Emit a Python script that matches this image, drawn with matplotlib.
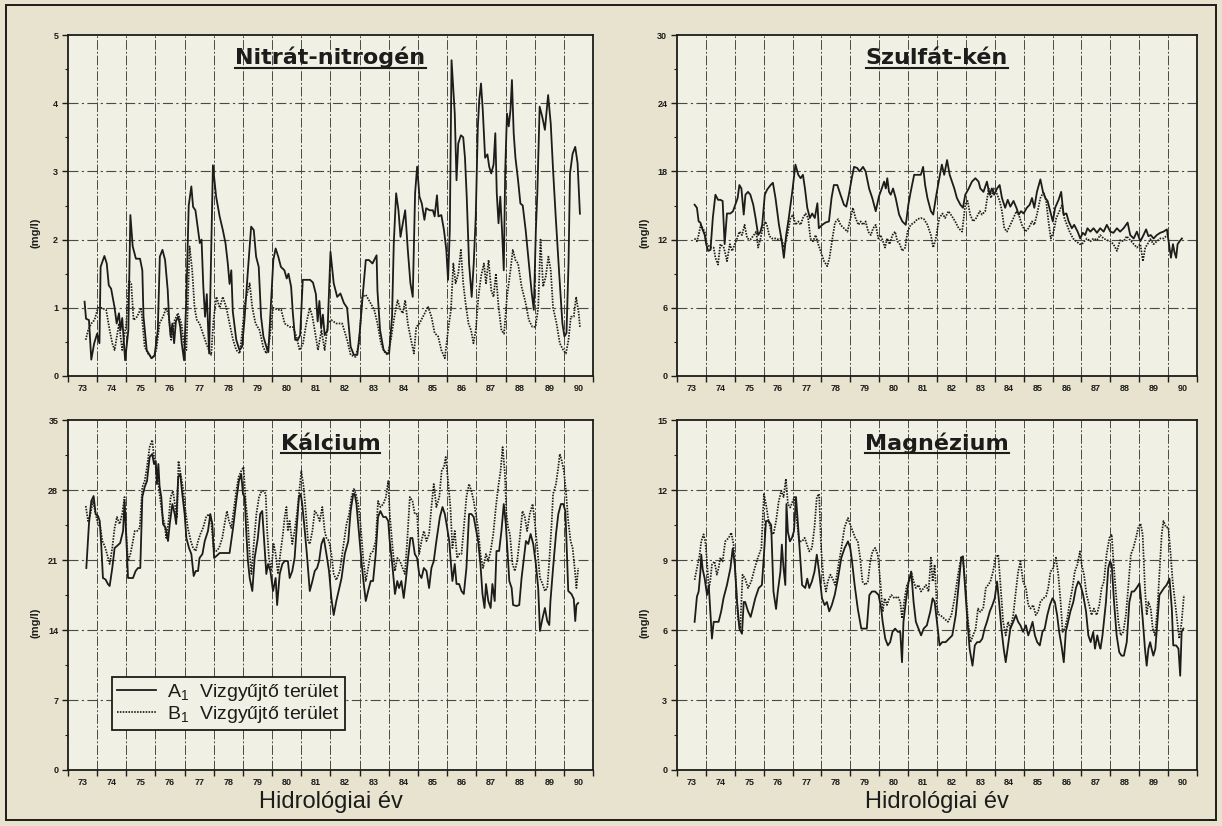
import matplotlib
matplotlib.use("Agg")
import matplotlib.pyplot as plt
import numpy as np
from matplotlib.lines import Line2D
from matplotlib.patches import Rectangle

plt.rcParams['font.family'] = ['Liberation Sans', 'DejaVu Sans']
plt.rcParams['mathtext.default'] = 'regular'

INK = '#1c1c1a'
PAPER = '#e7e3cf'
PLOT_BG = '#f0f0e4'
GRID = '#4a4a46'

years = list(range(73, 91))
year_labels = [str(y) for y in years]

# (hydrological year, mg/l) pairs, A1 = solid, B1 = dotted
nitrate_a = [
    (73.57, 1.09), (73.62, 0.84), (73.72, 0.82), (73.80, 0.24), (73.90, 0.48), (74.00, 0.62),
    (74.08, 0.48), (74.12, 1.60), (74.25, 1.76), (74.33, 1.65), (74.40, 1.33), (74.48, 1.28),
    (74.60, 1.00), (74.67, 0.77), (74.75, 0.92), (74.80, 0.67), (74.86, 0.85), (74.96, 0.23),
    (75.07, 0.67), (75.14, 2.36), (75.22, 1.90), (75.33, 1.72), (75.47, 1.72), (75.55, 1.55),
    (75.59, 0.87), (75.70, 0.38), (75.86, 0.26), (75.97, 0.30), (76.08, 0.67), (76.15, 1.75),
    (76.24, 1.85), (76.33, 1.70), (76.42, 1.26), (76.47, 0.82), (76.52, 0.58), (76.58, 0.77),
    (76.64, 0.48), (76.70, 0.80), (76.78, 0.87), (76.85, 0.72), (76.90, 0.48), (76.98, 0.23),
    (77.06, 1.16), (77.14, 2.50), (77.23, 2.78), (77.29, 2.48), (77.37, 2.43), (77.46, 2.14),
    (77.52, 1.95), (77.58, 2.00), (77.64, 1.31), (77.70, 0.87), (77.76, 1.20), (77.84, 0.33),
    (77.97, 3.09), (78.08, 2.63), (78.20, 2.34), (78.31, 2.14), (78.40, 1.95), (78.48, 1.65),
    (78.54, 1.35), (78.60, 1.55), (78.65, 0.95), (78.77, 0.53), (78.88, 0.38), (78.97, 0.43),
    (79.05, 0.82), (79.17, 1.55), (79.28, 2.19), (79.37, 2.14), (79.45, 1.75), (79.54, 1.60),
    (79.62, 0.87), (79.70, 0.58), (79.80, 0.43), (79.87, 0.35), (80.04, 1.70), (80.12, 1.87),
    (80.21, 1.75), (80.30, 1.60), (80.42, 1.55), (80.50, 1.43), (80.56, 1.50), (80.65, 1.31),
    (80.71, 0.92), (80.79, 0.53), (80.88, 0.53), (80.96, 0.60), (81.05, 1.41), (81.30, 1.41),
    (81.40, 1.37), (81.50, 1.20), (81.56, 0.80), (81.62, 1.10), (81.68, 0.70), (81.74, 0.90),
    (81.80, 0.60), (81.90, 0.67), (82.00, 1.82), (82.11, 1.36), (82.23, 1.16), (82.34, 1.21),
    (82.46, 1.07), (82.57, 1.00), (82.69, 0.43), (82.80, 0.31), (82.92, 0.31), (83.00, 0.63),
    (83.09, 1.11), (83.21, 1.70), (83.32, 1.70), (83.44, 1.65), (83.50, 1.70), (83.58, 1.77),
    (83.61, 1.25), (83.70, 0.67), (83.82, 0.38), (83.93, 0.33), (84.01, 0.33), (84.11, 0.87),
    (84.17, 1.95), (84.25, 2.68), (84.33, 2.43), (84.40, 2.04), (84.48, 2.24), (84.56, 2.43),
    (84.65, 1.85), (84.74, 1.36), (84.82, 1.16), (84.90, 2.68), (84.97, 3.07), (85.05, 2.63),
    (85.13, 2.53), (85.22, 2.29), (85.28, 2.46), (85.40, 2.43), (85.51, 2.43), (85.57, 2.34),
    (85.65, 2.65), (85.70, 2.34), (85.80, 2.36), (85.89, 2.14), (85.97, 1.85), (86.03, 1.41),
    (86.09, 2.14), (86.15, 4.63), (86.21, 4.19), (86.26, 3.85), (86.32, 2.87), (86.38, 3.41),
    (86.47, 3.53), (86.55, 3.50), (86.61, 3.20), (86.67, 2.63), (86.75, 1.65), (86.84, 1.16),
    (86.91, 1.65), (86.98, 2.34), (87.05, 3.65), (87.10, 4.05), (87.16, 4.29), (87.22, 3.90),
    (87.30, 3.20), (87.38, 3.25), (87.44, 3.07), (87.51, 2.97), (87.59, 3.10), (87.65, 3.56),
    (87.70, 2.68), (87.76, 2.24), (87.82, 2.63), (87.88, 2.14), (87.94, 1.55), (87.99, 3.02),
    (88.05, 3.85), (88.11, 3.66), (88.17, 3.90), (88.22, 4.34), (88.28, 3.56), (88.34, 3.20),
    (88.43, 2.87), (88.51, 2.53), (88.59, 2.50), (88.69, 2.14), (88.80, 1.65), (88.90, 1.21),
    (88.97, 0.97), (89.04, 2.14), (89.09, 2.68), (89.17, 3.95), (89.26, 3.80), (89.35, 3.61),
    (89.40, 3.85), (89.46, 4.12), (89.55, 3.70), (89.63, 3.02), (89.72, 2.34), (89.84, 1.50),
    (89.95, 0.77), (90.02, 0.58), (90.09, 0.63), (90.16, 1.65), (90.21, 2.97), (90.30, 3.26),
    (90.39, 3.36), (90.47, 3.12), (90.55, 2.38),
]
nitrate_b = [
    (73.61, 0.53), (73.69, 0.67), (73.80, 0.77), (73.91, 0.82), (74.03, 1.00), (74.14, 1.00),
    (74.31, 0.97), (74.43, 0.67), (74.52, 0.48), (74.60, 0.38), (74.75, 0.77), (74.86, 0.38),
    (75.00, 0.77), (75.09, 1.40), (75.17, 1.35), (75.25, 0.82), (75.37, 0.87), (75.51, 1.00),
    (75.63, 0.43), (75.74, 0.33), (75.91, 0.26), (76.03, 0.38), (76.14, 0.77), (76.26, 0.87),
    (76.37, 1.00), (76.46, 0.87), (76.54, 0.53), (76.66, 0.82), (76.77, 0.92), (76.89, 0.77),
    (76.97, 0.48), (77.06, 0.38), (77.17, 1.90), (77.26, 1.55), (77.34, 1.00), (77.42, 0.82),
    (77.51, 0.77), (77.63, 0.62), (77.74, 0.48), (77.83, 0.38), (77.91, 0.31), (77.99, 0.82),
    (78.09, 1.16), (78.20, 1.00), (78.31, 1.16), (78.43, 1.00), (78.54, 0.77), (78.66, 0.53),
    (78.77, 0.38), (78.89, 0.33), (78.98, 0.67), (79.06, 1.06), (79.23, 1.36), (79.32, 1.00),
    (79.43, 0.77), (79.57, 0.67), (79.69, 0.43), (79.80, 0.33), (79.91, 0.53), (80.03, 1.00),
    (80.20, 0.97), (80.31, 0.97), (80.43, 0.77), (80.60, 0.72), (80.71, 0.72), (80.83, 0.58),
    (80.94, 0.38), (81.06, 0.48), (81.17, 0.77), (81.29, 1.00), (81.38, 0.87), (81.46, 0.67),
    (81.57, 0.38), (81.69, 0.67), (81.80, 0.38), (81.91, 0.77), (82.03, 0.82), (82.20, 0.77),
    (82.40, 0.77), (82.57, 0.53), (82.69, 0.31), (82.86, 0.28), (82.98, 0.48), (83.09, 1.16),
    (83.21, 1.19), (83.32, 1.11), (83.50, 0.97), (83.61, 0.77), (83.73, 0.48), (83.84, 0.36),
    (83.96, 0.31), (84.07, 0.53), (84.19, 0.87), (84.30, 1.11), (84.40, 0.97), (84.48, 0.92),
    (84.56, 1.11), (84.65, 0.77), (84.76, 0.53), (84.86, 0.33), (84.94, 0.72), (85.05, 0.77),
    (85.23, 0.92), (85.34, 1.02), (85.46, 0.87), (85.57, 0.63), (85.69, 0.58), (85.80, 0.38),
    (85.92, 0.26), (86.03, 0.67), (86.13, 0.97), (86.21, 1.65), (86.29, 1.36), (86.38, 1.50),
    (86.47, 1.85), (86.55, 1.36), (86.63, 1.07), (86.73, 0.77), (86.82, 0.67), (86.90, 0.48),
    (86.98, 0.67), (87.07, 1.16), (87.16, 1.46), (87.26, 1.65), (87.33, 1.36), (87.42, 1.70),
    (87.51, 1.26), (87.59, 1.16), (87.67, 1.50), (87.76, 1.02), (87.86, 0.67), (87.95, 0.62),
    (88.05, 1.16), (88.17, 1.55), (88.25, 1.85), (88.34, 1.70), (88.43, 1.65), (88.55, 1.31),
    (88.69, 1.07), (88.80, 0.82), (88.92, 0.72), (89.03, 0.72), (89.12, 1.00), (89.20, 2.00),
    (89.29, 1.31), (89.38, 1.46), (89.47, 1.75), (89.55, 1.55), (89.63, 1.00), (89.75, 0.77),
    (89.86, 0.48), (89.98, 0.38), (90.07, 0.33), (90.16, 0.53), (90.24, 0.87), (90.34, 0.87),
    (90.42, 1.16), (90.51, 0.92), (90.55, 0.72),
]

sulfate_a = [
    (73.61, 15.07), (73.69, 14.8), (73.75, 13.6), (73.81, 13.5), (73.87, 13.0), (73.96, 12.4),
    (74.01, 11.6), (74.08, 11.0), (74.16, 11.1), (74.24, 13.9), (74.33, 15.95), (74.42, 15.5),
    (74.50, 15.5), (74.58, 15.4), (74.65, 11.6), (74.73, 14.3), (74.85, 14.3), (74.94, 14.5),
    (75.02, 15.07), (75.10, 15.66), (75.16, 16.8), (75.23, 16.5), (75.31, 14.2), (75.37, 15.95),
    (75.46, 16.2), (75.54, 15.95), (75.64, 15.07), (75.72, 13.9), (75.81, 12.4), (75.89, 12.7),
    (75.95, 13.3), (76.04, 15.95), (76.12, 16.4), (76.24, 16.8), (76.32, 17.0), (76.41, 15.66),
    (76.53, 13.3), (76.62, 12.0), (76.70, 10.4), (76.78, 12.4), (76.87, 13.9), (76.99, 16.2),
    (77.10, 18.6), (77.20, 17.7), (77.28, 17.4), (77.36, 17.7), (77.43, 16.5), (77.51, 14.8),
    (77.60, 13.9), (77.68, 14.3), (77.77, 13.9), (77.86, 15.2), (77.91, 13.0), (78.03, 13.3),
    (78.14, 13.5), (78.26, 13.6), (78.35, 15.66), (78.43, 16.8), (78.55, 16.8), (78.66, 15.95),
    (78.78, 15.07), (78.86, 14.9), (78.95, 15.95), (79.05, 17.4), (79.13, 18.4), (79.24, 18.3),
    (79.32, 18.0), (79.44, 18.4), (79.53, 18.0), (79.65, 16.5), (79.76, 15.66), (79.88, 14.5),
    (79.99, 15.8), (80.09, 16.5), (80.17, 17.1), (80.23, 16.5), (80.28, 17.4), (80.34, 16.2),
    (80.40, 15.95), (80.48, 16.5), (80.57, 15.66), (80.69, 14.2), (80.80, 13.6), (80.92, 13.3),
    (81.01, 15.07), (81.09, 16.2), (81.21, 17.7), (81.32, 17.7), (81.44, 17.7), (81.52, 18.4),
    (81.59, 16.8), (81.67, 15.66), (81.79, 14.5), (81.87, 14.2), (81.96, 15.66), (82.08, 17.4),
    (82.17, 18.6), (82.25, 17.7), (82.35, 19.0), (82.44, 17.7), (82.52, 17.1), (82.60, 16.5),
    (82.69, 15.66), (82.81, 15.07), (82.90, 14.8), (82.98, 15.95), (83.10, 16.5), (83.21, 17.1),
    (83.33, 17.4), (83.44, 17.1), (83.50, 16.5), (83.61, 16.2), (83.73, 17.1), (83.82, 15.95),
    (83.90, 16.5), (83.98, 15.95), (84.08, 16.5), (84.17, 16.8), (84.25, 15.66), (84.36, 14.8),
    (84.45, 15.5), (84.54, 14.9), (84.65, 15.4), (84.75, 14.8), (84.83, 14.2), (84.91, 14.5),
    (85.00, 14.3), (85.11, 14.8), (85.21, 15.07), (85.29, 15.66), (85.37, 14.8), (85.46, 16.2),
    (85.58, 17.3), (85.67, 16.2), (85.75, 15.66), (85.83, 15.4), (85.92, 14.5), (86.01, 13.6),
    (86.09, 14.8), (86.21, 15.5), (86.30, 16.2), (86.38, 14.2), (86.48, 14.3), (86.56, 13.6),
    (86.67, 13.0), (86.75, 13.3), (86.87, 12.7), (86.96, 12.1), (87.05, 12.6), (87.13, 12.4),
    (87.21, 13.0), (87.31, 12.7), (87.42, 13.0), (87.54, 12.6), (87.65, 13.0), (87.77, 12.7),
    (87.88, 13.3), (88.00, 12.7), (88.11, 12.6), (88.23, 13.0), (88.34, 12.7), (88.46, 13.0),
    (88.60, 13.5), (88.69, 12.4), (88.81, 12.1), (88.92, 12.7), (89.04, 11.85), (89.15, 12.4),
    (89.24, 12.9), (89.32, 12.3), (89.40, 12.4), (89.50, 12.1), (89.61, 12.4), (89.73, 12.6),
    (89.84, 12.7), (89.96, 12.9), (90.05, 11.3), (90.10, 10.4), (90.17, 11.6), (90.22, 10.9),
    (90.28, 10.4), (90.33, 11.6), (90.40, 11.85), (90.48, 12.1),
]
sulfate_b = [
    (73.61, 12.1), (73.69, 11.85), (73.75, 12.4), (73.82, 13.3), (73.89, 13.0), (73.96, 12.7),
    (74.04, 11.6), (74.16, 11.3), (74.27, 11.3), (74.33, 10.4), (74.42, 9.8), (74.50, 11.6),
    (74.62, 11.3), (74.68, 10.7), (74.73, 10.1), (74.83, 11.6), (74.91, 11.0), (75.00, 11.6),
    (75.08, 12.1), (75.16, 12.7), (75.25, 12.4), (75.34, 13.3), (75.43, 12.1), (75.54, 12.0),
    (75.66, 12.4), (75.74, 12.7), (75.81, 11.3), (75.89, 12.1), (75.97, 13.0), (76.06, 13.6),
    (76.12, 13.2), (76.20, 12.3), (76.29, 12.1), (76.41, 12.1), (76.53, 12.0), (76.62, 12.1),
    (76.70, 11.3), (76.82, 12.4), (76.93, 13.9), (77.02, 14.2), (77.10, 13.3), (77.20, 13.6),
    (77.28, 13.3), (77.36, 13.9), (77.45, 14.3), (77.54, 13.9), (77.62, 12.1), (77.71, 11.85),
    (77.80, 12.4), (77.89, 11.6), (77.97, 11.0), (78.09, 10.1), (78.20, 9.66), (78.28, 10.4),
    (78.38, 12.1), (78.47, 13.5), (78.58, 13.8), (78.66, 13.3), (78.78, 13.0), (78.90, 12.7),
    (79.01, 13.9), (79.09, 14.8), (79.18, 13.9), (79.28, 13.3), (79.36, 13.6), (79.44, 13.3),
    (79.53, 13.6), (79.62, 12.7), (79.71, 12.4), (79.79, 13.0), (79.88, 13.3), (79.97, 12.1),
    (80.05, 12.4), (80.13, 11.85), (80.20, 11.3), (80.28, 12.1), (80.36, 11.6), (80.46, 12.4),
    (80.55, 12.7), (80.63, 11.85), (80.71, 11.6), (80.80, 11.0), (80.90, 11.3), (80.98, 12.7),
    (81.09, 13.3), (81.21, 13.5), (81.32, 13.8), (81.44, 13.9), (81.55, 13.8), (81.67, 13.3),
    (81.79, 12.4), (81.87, 11.3), (81.96, 12.1), (82.08, 13.9), (82.19, 14.3), (82.28, 13.9),
    (82.40, 14.5), (82.52, 14.05), (82.63, 13.6), (82.75, 13.0), (82.87, 12.7), (82.98, 15.07),
    (83.06, 15.4), (83.15, 14.2), (83.25, 13.6), (83.36, 13.9), (83.48, 14.5), (83.56, 14.2),
    (83.67, 14.5), (83.79, 16.5), (83.87, 15.66), (83.96, 16.5), (84.05, 16.2), (84.17, 15.4),
    (84.25, 14.5), (84.33, 13.0), (84.42, 12.7), (84.54, 13.3), (84.65, 13.9), (84.75, 14.5),
    (84.83, 14.2), (84.94, 13.3), (85.06, 12.7), (85.17, 13.0), (85.29, 13.6), (85.37, 13.3),
    (85.46, 14.2), (85.58, 15.66), (85.69, 16.2), (85.78, 15.4), (85.86, 13.6), (85.94, 12.1),
    (86.04, 12.7), (86.13, 13.9), (86.24, 14.5), (86.33, 15.07), (86.41, 13.9), (86.50, 13.3),
    (86.59, 12.7), (86.71, 12.1), (86.82, 11.85), (86.94, 11.6), (87.02, 11.6), (87.10, 11.85),
    (87.19, 12.1), (87.31, 11.85), (87.42, 12.1), (87.54, 11.95), (87.65, 12.4), (87.77, 12.1),
    (87.88, 11.95), (88.00, 11.85), (88.11, 11.6), (88.23, 11.0), (88.34, 11.95), (88.46, 11.85),
    (88.57, 12.3), (88.69, 11.95), (88.81, 11.6), (88.92, 11.3), (89.04, 11.6), (89.13, 10.1),
    (89.21, 11.3), (89.29, 11.6), (89.38, 12.05), (89.50, 11.6), (89.61, 11.85), (89.73, 12.1),
    (89.84, 12.1), (89.98, 12.4),
]

calcium_a = [
    (73.63, 20.2), (73.72, 24.6), (73.80, 26.9), (73.88, 27.4), (73.95, 25.6), (74.03, 25.4),
    (74.09, 24.9), (74.14, 22.6), (74.20, 19.2), (74.29, 19.05), (74.37, 18.6), (74.43, 18.4),
    (74.52, 20.2), (74.60, 22.2), (74.68, 22.4), (74.79, 22.7), (74.89, 23.9), (74.94, 26.9),
    (75.00, 23.2), (75.06, 19.2), (75.14, 19.2), (75.23, 19.2), (75.32, 19.9), (75.40, 20.2),
    (75.48, 20.2), (75.55, 27.3), (75.63, 28.3), (75.71, 28.9), (75.80, 31.3), (75.89, 31.6),
    (75.95, 30.6), (76.01, 30.9), (76.05, 28.6), (76.10, 30.6), (76.14, 28.4), (76.20, 27.3),
    (76.26, 24.6), (76.35, 24.2), (76.43, 22.9), (76.49, 24.6), (76.58, 26.6), (76.66, 25.6),
    (76.71, 24.6), (76.78, 29.3), (76.85, 29.6), (76.92, 27.6), (77.00, 25.6), (77.06, 23.2),
    (77.15, 22.2), (77.23, 21.6), (77.31, 19.4), (77.38, 19.9), (77.46, 19.9), (77.51, 21.2),
    (77.61, 21.6), (77.69, 22.9), (77.80, 23.9), (77.88, 25.6), (77.95, 24.6), (78.01, 21.2),
    (78.09, 21.4), (78.20, 21.7), (78.31, 21.7), (78.43, 21.7), (78.54, 21.7), (78.66, 24.2),
    (78.77, 26.9), (78.86, 28.9), (78.94, 29.6), (79.00, 27.6), (79.06, 27.3), (79.11, 24.0),
    (79.17, 20.9), (79.23, 19.2), (79.32, 17.9), (79.40, 21.2), (79.51, 23.2), (79.59, 25.6),
    (79.66, 25.9), (79.74, 22.2), (79.80, 19.6), (79.86, 20.6), (79.94, 19.9), (80.03, 17.9),
    (80.12, 19.2), (80.17, 16.5), (80.26, 19.6), (80.35, 20.6), (80.43, 20.9), (80.54, 20.9),
    (80.60, 19.2), (80.69, 19.9), (80.77, 21.2), (80.85, 24.6), (80.92, 27.3), (80.98, 27.6),
    (81.03, 26.6), (81.11, 24.2), (81.19, 21.6), (81.29, 17.9), (81.38, 18.9), (81.46, 19.9),
    (81.54, 20.2), (81.61, 20.9), (81.69, 22.6), (81.77, 23.2), (81.86, 21.6), (81.95, 19.9),
    (82.03, 17.2), (82.11, 15.5), (82.20, 16.9), (82.38, 19.2), (82.49, 21.6), (82.61, 22.9),
    (82.69, 25.9), (82.78, 27.6), (82.83, 27.6), (82.89, 26.6), (82.97, 23.9), (83.06, 20.9),
    (83.14, 18.6), (83.21, 16.9), (83.29, 17.9), (83.38, 18.9), (83.46, 18.9), (83.55, 21.6),
    (83.63, 25.3), (83.71, 25.9), (83.81, 25.3), (83.90, 25.3), (83.98, 24.9), (84.03, 22.9),
    (84.13, 20.2), (84.21, 17.6), (84.29, 18.9), (84.35, 18.2), (84.43, 18.9), (84.51, 17.2),
    (84.58, 18.9), (84.66, 21.2), (84.74, 23.2), (84.81, 23.2), (84.89, 21.6), (84.97, 21.2),
    (85.04, 19.6), (85.12, 19.2), (85.20, 20.2), (85.29, 19.9), (85.38, 18.2), (85.46, 20.2),
    (85.54, 20.9), (85.63, 22.9), (85.75, 25.3), (85.84, 26.3), (85.92, 25.6), (86.00, 24.2),
    (86.07, 22.9), (86.13, 20.6), (86.18, 18.9), (86.26, 20.6), (86.32, 18.6), (86.41, 18.6),
    (86.49, 17.9), (86.57, 17.6), (86.66, 20.2), (86.75, 25.6), (86.83, 25.6), (86.91, 25.3),
    (86.98, 24.2), (87.06, 22.9), (87.14, 20.6), (87.21, 17.6), (87.28, 16.2), (87.33, 18.6),
    (87.41, 16.9), (87.49, 16.2), (87.55, 18.6), (87.63, 16.9), (87.69, 21.9), (87.78, 21.9),
    (87.86, 23.9), (87.94, 26.6), (88.01, 24.6), (88.06, 22.2), (88.13, 18.9), (88.21, 18.2),
    (88.26, 16.5), (88.38, 16.4), (88.47, 16.5), (88.55, 19.2), (88.63, 21.2), (88.70, 22.9),
    (88.78, 22.6), (88.86, 23.6), (88.95, 22.6), (89.04, 20.6), (89.12, 18.2), (89.18, 13.9),
    (89.27, 15.2), (89.35, 16.2), (89.43, 14.9), (89.50, 14.5), (89.54, 16.9), (89.63, 20.2),
    (89.73, 23.6), (89.81, 25.6), (89.90, 26.6), (89.98, 26.6), (90.05, 25.9), (90.09, 22.9),
    (90.15, 17.9), (90.26, 17.6), (90.34, 17.1), (90.39, 14.9), (90.43, 16.5), (90.49, 16.7),
]
calcium_b = [
    (73.61, 26.4), (73.69, 24.9), (73.77, 25.6), (73.86, 26.9), (73.95, 25.6), (74.03, 24.6),
    (74.11, 24.3), (74.18, 22.9), (74.26, 22.4), (74.34, 21.6), (74.43, 20.6), (74.52, 22.2),
    (74.60, 24.2), (74.68, 25.3), (74.77, 24.6), (74.86, 25.6), (74.94, 27.3), (75.00, 23.6),
    (75.06, 20.9), (75.14, 21.6), (75.21, 22.6), (75.29, 23.9), (75.37, 23.9), (75.46, 24.2),
    (75.55, 28.3), (75.63, 28.9), (75.71, 30.3), (75.80, 32.3), (75.89, 33.0), (75.95, 31.3),
    (76.03, 29.9), (76.09, 28.9), (76.14, 27.6), (76.23, 25.6), (76.31, 24.6), (76.37, 23.2),
    (76.45, 24.9), (76.52, 27.3), (76.60, 27.9), (76.68, 26.3), (76.74, 25.3), (76.79, 30.9),
    (76.86, 29.6), (76.94, 28.3), (77.03, 25.9), (77.11, 24.2), (77.21, 22.9), (77.29, 22.2),
    (77.38, 21.9), (77.46, 22.9), (77.54, 23.6), (77.63, 24.2), (77.74, 25.3), (77.83, 25.6),
    (77.91, 24.9), (77.99, 22.2), (78.09, 21.9), (78.18, 22.2), (78.29, 23.2), (78.37, 24.6),
    (78.45, 25.9), (78.52, 24.9), (78.60, 24.2), (78.68, 25.9), (78.77, 27.9), (78.85, 29.3),
    (78.94, 29.9), (79.02, 30.3), (79.09, 26.9), (79.17, 24.6), (79.23, 21.6), (79.29, 19.6),
    (79.37, 22.6), (79.46, 25.6), (79.55, 27.3), (79.64, 27.9), (79.71, 27.9), (79.78, 27.6),
    (79.83, 23.9), (79.89, 21.2), (79.97, 19.9), (80.05, 22.6), (80.12, 21.6), (80.20, 19.6),
    (80.28, 21.6), (80.37, 23.6), (80.43, 25.3), (80.49, 26.3), (80.54, 23.9), (80.60, 24.9),
    (80.69, 22.6), (80.77, 23.9), (80.85, 25.6), (80.92, 27.6), (81.00, 29.9), (81.08, 28.3),
    (81.15, 25.9), (81.23, 22.9), (81.29, 22.6), (81.38, 23.9), (81.46, 25.9), (81.54, 25.6),
    (81.63, 24.9), (81.72, 26.3), (81.80, 23.9), (81.86, 23.2), (81.95, 22.9), (82.03, 21.6),
    (82.11, 19.6), (82.20, 19.0), (82.32, 19.9), (82.43, 22.2), (82.55, 24.6), (82.64, 25.6),
    (82.72, 27.3), (82.80, 28.1), (82.87, 27.6), (82.95, 26.6), (83.03, 24.6), (83.12, 21.2),
    (83.21, 18.9), (83.29, 20.2), (83.37, 21.6), (83.46, 21.9), (83.55, 22.9), (83.63, 26.9),
    (83.71, 26.3), (83.81, 26.6), (83.90, 27.3), (83.98, 28.9), (84.03, 25.6), (84.13, 22.2),
    (84.21, 19.9), (84.29, 21.2), (84.38, 20.9), (84.47, 20.2), (84.55, 19.6), (84.63, 22.9),
    (84.72, 27.3), (84.81, 26.9), (84.89, 25.6), (84.97, 25.6), (85.04, 21.6), (85.12, 22.9),
    (85.20, 23.9), (85.29, 22.9), (85.38, 23.6), (85.46, 26.3), (85.54, 28.6), (85.63, 26.3),
    (85.73, 27.3), (85.81, 29.9), (85.89, 30.3), (85.95, 31.3), (86.03, 28.9), (86.11, 26.3),
    (86.18, 22.2), (86.26, 23.9), (86.34, 21.2), (86.41, 21.6), (86.49, 21.6), (86.57, 24.2),
    (86.66, 27.3), (86.75, 28.6), (86.83, 27.9), (86.91, 26.9), (86.98, 25.6), (87.06, 24.2),
    (87.14, 21.6), (87.23, 20.2), (87.33, 21.6), (87.41, 20.9), (87.49, 21.9), (87.58, 23.6),
    (87.67, 26.3), (87.75, 28.3), (87.83, 29.9), (87.90, 32.3), (87.98, 29.6), (88.03, 25.6),
    (88.09, 24.2), (88.15, 23.6), (88.24, 20.6), (88.32, 19.9), (88.40, 20.9), (88.49, 23.2),
    (88.58, 25.9), (88.66, 25.3), (88.74, 23.9), (88.83, 25.6), (88.93, 26.6), (89.01, 24.6),
    (89.09, 22.2), (89.18, 19.2), (89.27, 18.6), (89.35, 17.9), (89.43, 18.2), (89.50, 20.9),
    (89.58, 24.6), (89.63, 27.6), (89.73, 28.6), (89.81, 30.3), (89.86, 31.6), (89.93, 30.9),
    (90.00, 29.9), (90.07, 27.9), (90.15, 24.9), (90.23, 22.9), (90.30, 22.2), (90.38, 19.9),
    (90.43, 18.2), (90.49, 20.2),
]

magnesium_a = [
    (73.61, 6.35), (73.69, 7.43), (73.75, 7.65), (73.81, 8.5), (73.84, 9.23), (73.89, 8.6),
    (73.96, 8.2), (74.04, 7.5), (74.10, 7.9), (74.15, 6.9), (74.21, 5.63), (74.27, 6.35),
    (74.35, 6.35), (74.44, 6.35), (74.53, 6.8), (74.61, 7.36), (74.73, 7.93), (74.85, 8.65),
    (74.93, 9.5), (75.00, 8.8), (75.08, 7.2), (75.16, 6.06), (75.25, 5.84), (75.31, 7.2),
    (75.36, 7.2), (75.46, 6.8), (75.55, 6.56), (75.62, 6.9), (75.71, 7.36), (75.83, 7.8),
    (75.94, 7.93), (76.01, 9.23), (76.08, 10.67), (76.17, 10.67), (76.26, 10.5), (76.34, 7.65),
    (76.43, 6.9), (76.49, 7.65), (76.58, 8.5), (76.63, 9.66), (76.69, 8.65), (76.75, 7.93),
    (76.79, 11.4), (76.84, 10.2), (76.91, 9.8), (76.98, 9.95), (77.05, 10.24), (77.12, 11.7),
    (77.19, 10.5), (77.26, 9.23), (77.33, 7.93), (77.44, 7.8), (77.51, 8.2), (77.58, 7.8),
    (77.67, 8.08), (77.76, 8.5), (77.84, 9.23), (77.92, 8.5), (78.02, 7.36), (78.11, 7.07),
    (78.19, 7.2), (78.27, 6.8), (78.36, 7.07), (78.46, 7.5), (78.57, 8.2), (78.69, 9.1),
    (78.80, 9.5), (78.92, 9.8), (79.00, 9.5), (79.06, 8.94), (79.15, 7.93), (79.26, 6.9),
    (79.38, 6.06), (79.46, 6.06), (79.57, 6.06), (79.66, 7.5), (79.75, 7.65), (79.86, 7.65),
    (79.98, 7.5), (80.07, 6.9), (80.12, 6.35), (80.21, 5.63), (80.30, 5.34), (80.38, 5.48),
    (80.46, 5.92), (80.55, 6.06), (80.65, 5.92), (80.73, 5.92), (80.79, 4.62), (80.84, 6.35),
    (80.92, 7.2), (81.02, 8.08), (81.11, 8.5), (81.19, 7.2), (81.27, 6.35), (81.36, 6.06),
    (81.45, 5.77), (81.54, 6.06), (81.65, 6.2), (81.77, 6.8), (81.85, 7.36), (81.92, 7.2),
    (82.00, 6.35), (82.09, 5.34), (82.18, 5.48), (82.30, 5.48), (82.42, 5.63), (82.53, 5.77),
    (82.65, 6.64), (82.76, 8.08), (82.84, 9.1), (82.90, 9.16), (82.96, 8.08), (83.04, 6.64),
    (83.13, 5.2), (83.23, 4.47), (83.31, 5.34), (83.39, 5.48), (83.48, 5.48), (83.57, 5.63),
    (83.65, 6.06), (83.73, 6.35), (83.83, 6.8), (83.92, 7.07), (84.00, 7.36), (84.08, 8.08),
    (84.15, 7.2), (84.23, 6.06), (84.31, 5.2), (84.38, 4.62), (84.46, 5.34), (84.54, 6.06),
    (84.64, 6.35), (84.73, 6.64), (84.81, 6.35), (84.89, 6.2), (84.98, 5.92), (85.08, 6.2),
    (85.16, 5.77), (85.24, 6.06), (85.31, 6.35), (85.39, 5.77), (85.47, 5.48), (85.56, 5.34),
    (85.65, 5.92), (85.73, 6.06), (85.82, 6.64), (85.91, 7.07), (86.00, 7.36), (86.08, 7.2),
    (86.16, 6.64), (86.23, 5.92), (86.31, 5.34), (86.39, 4.62), (86.46, 5.92), (86.54, 6.35),
    (86.62, 6.8), (86.72, 7.2), (86.81, 7.8), (86.89, 8.08), (86.97, 7.93), (87.06, 7.5),
    (87.16, 6.8), (87.24, 5.77), (87.32, 5.48), (87.41, 5.92), (87.47, 5.2), (87.55, 5.77),
    (87.62, 5.34), (87.66, 5.2), (87.73, 5.77), (87.78, 6.35), (87.85, 7.2), (87.93, 8.65),
    (87.99, 8.94), (88.05, 8.8), (88.13, 7.2), (88.22, 5.77), (88.31, 5.05), (88.39, 4.9),
    (88.47, 4.9), (88.57, 5.48), (88.66, 7.2), (88.74, 7.65), (88.82, 7.65), (88.91, 7.8),
    (89.01, 8.0), (89.05, 7.5), (89.12, 6.5), (89.20, 5.2), (89.26, 4.47), (89.32, 5.2),
    (89.38, 5.48), (89.43, 5.2), (89.49, 4.9), (89.56, 5.2), (89.63, 6.35), (89.70, 7.5),
    (89.78, 7.65), (89.86, 7.8), (89.95, 7.93), (90.05, 8.2), (90.13, 6.9), (90.18, 5.34),
    (90.28, 5.34), (90.36, 5.2), (90.42, 4.04), (90.47, 5.92), (90.53, 6.06),
]
magnesium_b = [
    (73.61, 8.15), (73.69, 8.65), (73.77, 9.1), (73.84, 9.8), (73.92, 10.1), (73.98, 9.8),
    (74.04, 8.94), (74.10, 7.8), (74.15, 8.08), (74.21, 8.8), (74.30, 8.94), (74.38, 8.37),
    (74.44, 8.65), (74.50, 9.1), (74.58, 8.94), (74.67, 9.8), (74.79, 9.95), (74.88, 10.17),
    (74.96, 9.66), (75.04, 8.08), (75.11, 6.5), (75.19, 6.06), (75.27, 8.37), (75.36, 8.2),
    (75.46, 7.8), (75.57, 8.08), (75.69, 8.65), (75.80, 9.1), (75.92, 9.5), (76.01, 11.83),
    (76.08, 11.4), (76.17, 10.67), (76.26, 10.24), (76.34, 10.1), (76.43, 10.67), (76.52, 11.5),
    (76.61, 11.97), (76.69, 11.7), (76.77, 12.48), (76.84, 11.4), (76.92, 11.25), (77.00, 11.5),
    (77.07, 11.7), (77.15, 10.67), (77.23, 9.8), (77.33, 9.8), (77.42, 9.95), (77.50, 9.66),
    (77.58, 9.37), (77.67, 9.5), (77.76, 10.4), (77.84, 11.7), (77.92, 11.83), (77.99, 9.5),
    (78.07, 8.2), (78.16, 7.65), (78.22, 8.08), (78.31, 8.37), (78.39, 8.2), (78.48, 7.93),
    (78.57, 8.65), (78.69, 9.5), (78.80, 10.4), (78.92, 10.8), (79.00, 10.5), (79.08, 10.24),
    (79.17, 9.95), (79.26, 9.8), (79.34, 9.1), (79.42, 8.08), (79.52, 7.93), (79.61, 8.08),
    (79.69, 8.94), (79.77, 9.37), (79.86, 9.52), (79.95, 9.23), (80.04, 8.08), (80.12, 6.78),
    (80.19, 7.36), (80.27, 7.07), (80.35, 7.36), (80.42, 7.5), (80.53, 7.36), (80.65, 7.43),
    (80.73, 7.2), (80.79, 6.5), (80.88, 7.36), (80.96, 7.93), (81.04, 8.08), (81.11, 8.5),
    (81.19, 8.08), (81.27, 7.8), (81.36, 7.93), (81.45, 7.65), (81.54, 7.8), (81.62, 7.93),
    (81.71, 7.65), (81.79, 9.1), (81.85, 8.08), (81.92, 8.8), (82.00, 6.92), (82.08, 6.64),
    (82.15, 6.6), (82.38, 6.35), (82.50, 6.64), (82.61, 7.36), (82.73, 8.37), (82.84, 9.16),
    (82.92, 8.8), (82.99, 7.8), (83.08, 6.35), (83.16, 5.48), (83.25, 5.77), (83.34, 6.06),
    (83.42, 6.92), (83.50, 6.78), (83.60, 6.92), (83.69, 7.8), (83.77, 7.93), (83.85, 8.08),
    (83.94, 8.5), (84.03, 9.1), (84.12, 9.23), (84.20, 7.93), (84.29, 6.35), (84.38, 5.77),
    (84.46, 6.35), (84.54, 6.06), (84.64, 6.64), (84.73, 7.65), (84.81, 8.5), (84.89, 8.94),
    (84.98, 8.08), (85.08, 7.8), (85.16, 7.07), (85.24, 6.92), (85.33, 7.07), (85.42, 6.64),
    (85.50, 6.78), (85.58, 7.2), (85.68, 7.36), (85.77, 7.43), (85.85, 7.8), (85.93, 8.5),
    (86.02, 8.65), (86.12, 9.1), (86.20, 8.37), (86.28, 7.2), (86.35, 5.92), (86.43, 6.06),
    (86.51, 6.5), (86.60, 7.2), (86.69, 7.8), (86.77, 8.5), (86.86, 8.8), (86.95, 9.37),
    (87.01, 8.8), (87.09, 8.37), (87.18, 7.5), (87.27, 7.07), (87.35, 6.64), (87.43, 6.92),
    (87.53, 6.64), (87.62, 7.07), (87.70, 7.8), (87.78, 8.08), (87.87, 9.23), (87.97, 9.95),
    (88.05, 10.1), (88.10, 9.1), (88.20, 7.5), (88.28, 6.35), (88.36, 5.77), (88.45, 5.92),
    (88.54, 6.64), (88.62, 7.8), (88.71, 9.23), (88.80, 9.52), (88.89, 9.95), (88.97, 10.4),
    (89.05, 10.55), (89.12, 10.1), (89.20, 7.8), (89.26, 6.64), (89.32, 7.2), (89.40, 6.92),
    (89.47, 6.06), (89.55, 5.77), (89.63, 6.92), (89.70, 8.37), (89.78, 10.1), (89.84, 10.67),
    (89.93, 10.4), (90.01, 10.4), (90.09, 9.23), (90.16, 8.08), (90.24, 7.2), (90.32, 6.35),
    (90.39, 5.63), (90.47, 6.35), (90.55, 7.5),
]

titles = ["Nitrát-nitrogén", "Szulfát-kén", "Kálcium", "Magnézium"]
y_max = [5, 30, 35, 15]
y_step = [1, 6, 7, 3]
legend_labels = ["A$_1$  Vizgyűjtő terület", "B$_1$  Vizgyűjtő terület"]

DOTTED = (0, (0.9, 0.75))

fig = plt.figure(figsize=(12.22, 8.26), dpi=100, facecolor=PAPER)

# axes boxes in figure fractions: left, bottom, width, height
boxes = [
    (0.0556, 0.5448, 0.4297, 0.4128),
    (0.5540, 0.5448, 0.4255, 0.4128),
    (0.0556, 0.0678, 0.4297, 0.4237),
    (0.5540, 0.0678, 0.4255, 0.4237),
]
series = [(nitrate_a, nitrate_b), (sulfate_a, sulfate_b),
          (calcium_a, calcium_b), (magnesium_a, magnesium_b)]

axes = []
title_texts = []
for i, (box, (sa, sb)) in enumerate(zip(boxes, series)):
    ax = fig.add_axes(box, facecolor=PLOT_BG)
    axes.append(ax)
    ta, va = np.array(sa).T
    tb, vb = np.array(sb).T
    ax.plot(tb, vb, color=INK, lw=1.25, linestyle=DOTTED, zorder=3)
    ax.plot(ta, va, color=INK, lw=1.3, zorder=4)

    top, step = y_max[i], y_step[i]
    ax.set_xlim(73, 91)
    ax.set_ylim(0, top)

    # year boundaries carry the tick marks, year centres carry the labels
    ax.set_xticks(np.arange(73, 92))
    ax.set_xticklabels([])
    ax.set_xticks(np.array(years) + 0.5, minor=True)
    ax.set_xticklabels(year_labels, minor=True)
    ax.tick_params(axis='x', which='major', direction='out', length=4, width=1.0, color=INK)
    ax.tick_params(axis='x', which='minor', length=0, pad=6, labelsize=6.5, labelcolor=INK)

    ax.set_yticks(np.arange(0, top + step / 2, step))
    ax.set_yticks(np.arange(step / 2, top, step), minor=True)
    ax.tick_params(axis='y', which='major', direction='out', length=4, width=1.0,
                   labelsize=6.5, pad=3, color=INK, labelcolor=INK)
    ax.tick_params(axis='y', which='minor', direction='out', length=2.5, width=0.8, color=INK)
    for lbl in ax.get_xticklabels(minor=True) + ax.get_yticklabels():
        lbl.set_fontweight('bold')

    for y in np.arange(step, top, step):
        ax.axhline(y, color=GRID, lw=0.8, linestyle=(0, (9, 3, 2, 3)), zorder=1)
    for x in range(74, 91):
        ax.axvline(x, color=GRID, lw=0.7, linestyle=(0, (10, 2, 2, 2)), zorder=1)

    for sp in ax.spines.values():
        sp.set_color(INK)
        sp.set_linewidth(1.3)

    ax.set_ylabel("(mg/l)", fontsize=8, fontweight='bold', color=INK)
    ax.yaxis.set_label_coords(-0.052, 0.42)

    t = ax.text(0.5, 0.915, titles[i], transform=ax.transAxes, ha='center', va='baseline',
                fontsize=16, fontweight='bold', family='DejaVu Sans', color=INK, zorder=6)
    title_texts.append(t)

    if i >= 2:
        ax.set_xlabel("Hidrológiai év", fontsize=17, color=INK, labelpad=3)

# legend in the calcium panel
handles = [Line2D([], [], color=INK, lw=1.3),
           Line2D([], [], color=INK, lw=1.25, linestyle=DOTTED)]
leg = axes[2].legend(handles, legend_labels, loc='lower left', bbox_to_anchor=(0.084, 0.114),
                     fontsize=14, frameon=True, fancybox=False, edgecolor=INK,
                     facecolor=PLOT_BG, framealpha=1, handlelength=2.0, handletextpad=0.6,
                     borderpad=0.25, labelspacing=0.05, borderaxespad=0)
leg.get_frame().set_linewidth(1.3)
for txt in leg.get_texts():
    txt.set_color(INK)

# underline the panel titles
fig.canvas.draw()
renderer = fig.canvas.get_renderer()
inv = fig.transFigure.inverted()
for ax, t in zip(axes, title_texts):
    bb = t.get_window_extent(renderer)
    base = ax.transAxes.transform((0.5, 0.915))[1] - 3.5
    (x0, y0), (x1, _) = inv.transform([(bb.x0, base), (bb.x1, base)])
    fig.add_artist(Line2D([x0, x1], [y0, y0], color=INK, lw=1.5, transform=fig.transFigure))

# page frame
fig.add_artist(Rectangle((0.005, 0.007), 0.99, 0.987, transform=fig.transFigure,
                         fill=False, edgecolor=INK, lw=1.4))

fig.savefig("out.png", dpi=100, facecolor=fig.get_facecolor())
